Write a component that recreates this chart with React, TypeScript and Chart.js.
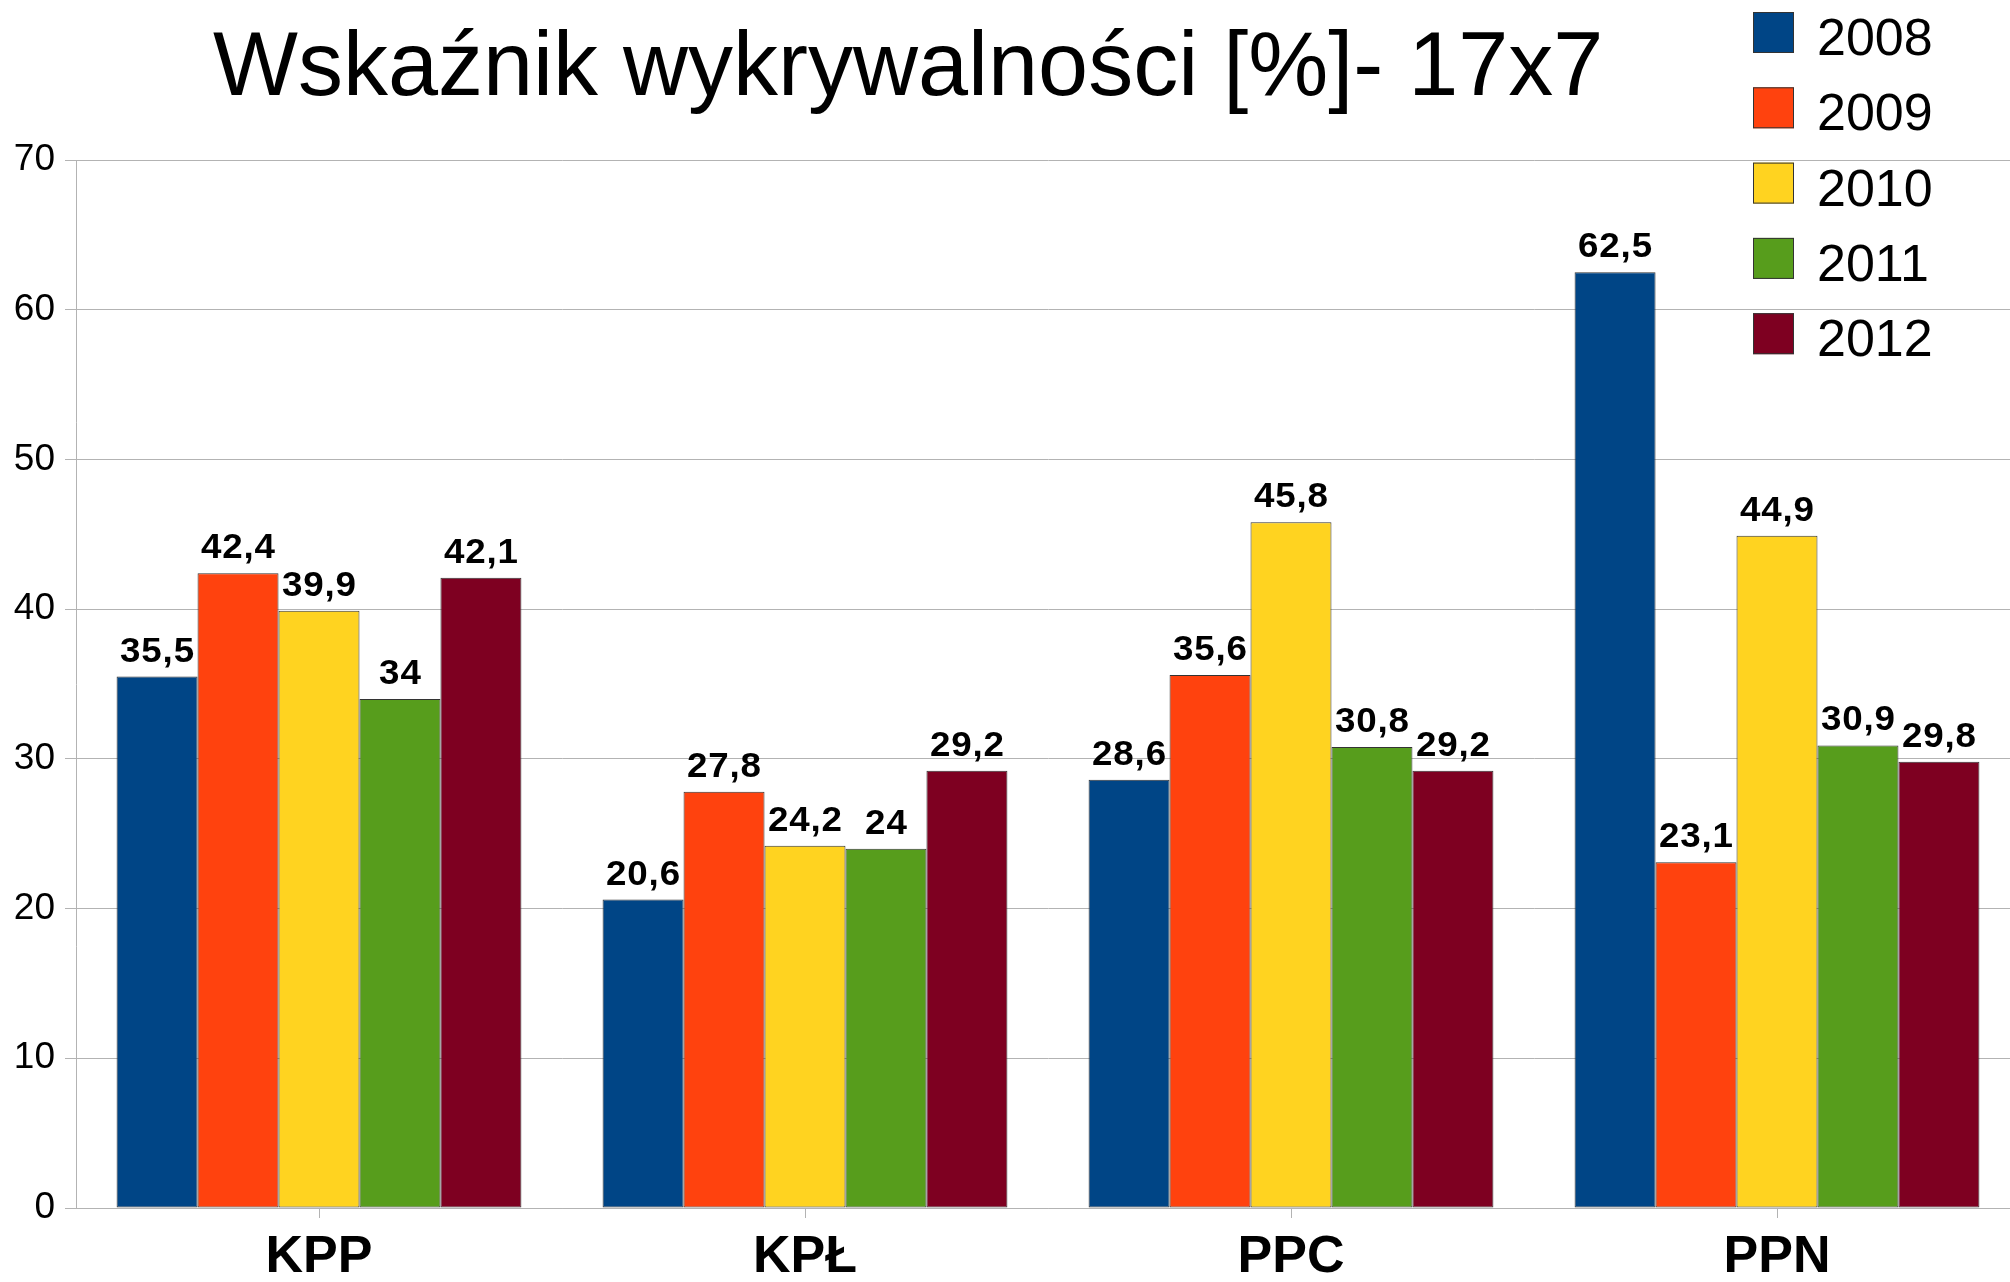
import React, { useEffect, useRef } from "react";
import { Chart, registerables } from "chart.js";

Chart.register(...registerables);

const categories = ["KPP", "KPŁ", "PPC", "PPN"];
const years = ["2008", "2009", "2010", "2011", "2012"];
const values2008 = [35.5, 20.6, 28.6, 62.5];
const values2009 = [42.4, 27.8, 35.6, 23.1];
const values2010 = [39.9, 24.2, 45.8, 44.9];
const values2011 = [34, 24, 30.8, 30.9];
const values2012 = [42.1, 29.2, 29.2, 29.8];
const seriesValues = [values2008, values2009, values2010, values2011, values2012];
const colors = ["#004586", "#ff420e", "#ffd320", "#579d1c", "#7e0021"];
const yTicks = [0, 10, 20, 30, 40, 50, 60, 70];
const titleText = "Wskaźnik wykrywalności [%]- 17x7";

const FONT = "'Liberation Sans', Arial, sans-serif";
const W = 2030;
const H = 1282;

const overlayPlugin = {
  id: "overlay",
  afterDatasetsDraw(chart: any) {
    const ctx = chart.ctx;
    ctx.save();
    ctx.fillStyle = "#000";
    ctx.font = `bold 35px ${FONT}`;
    const ls = 0.8;
    const sx = 1.05;
    try {
      (ctx as any).letterSpacing = `${ls}px`;
    } catch (e) {}
    ctx.textAlign = "center";
    ctx.textBaseline = "alphabetic";
    chart.data.datasets.forEach((ds: any, i: number) => {
      const meta = chart.getDatasetMeta(i);
      meta.data.forEach((el: any, j: number) => {
        const v = ds.data[j];
        ctx.save();
        ctx.translate(el.x, el.y - 15);
        ctx.scale(sx, 1);
        ctx.fillText(String(v).replace(".", ","), ls / 2, 0);
        ctx.restore();
      });
    });
    ctx.restore();
  },
  afterDraw(chart: any) {
    const ctx = chart.ctx;
    ctx.save();
    // title
    ctx.fillStyle = "#000";
    ctx.font = `90px ${FONT}`;
    ctx.textAlign = "left";
    ctx.textBaseline = "alphabetic";
    ctx.fillText(titleText, 213, 95);
    // legend
    ctx.font = `52px ${FONT}`;
    ctx.textBaseline = "alphabetic";
    chart.data.datasets.forEach((ds: any, i: number) => {
      const top = 12 + i * 75.3;
      ctx.fillStyle = ds.backgroundColor;
      ctx.fillRect(1753, top, 41, 41);
      ctx.strokeStyle = "#333";
      ctx.lineWidth = 1;
      ctx.strokeRect(1753.5, top + 0.5, 40, 40);
      ctx.fillStyle = "#000";
      ctx.fillText(ds.label, 1817, top + 43);
    });
    ctx.restore();
  },
};

export default function App() {
  const ref = useRef<HTMLCanvasElement>(null);
  useEffect(() => {
    if (!ref.current) return;
    const chart = new Chart(ref.current, {
      type: "bar",
      data: {
        labels: categories,
        datasets: years.map((y, i) => ({
          label: y,
          data: seriesValues[i],
          backgroundColor: colors[i],
          borderColor: "#333333",
          borderWidth: 1,
          borderSkipped: false,
          categoryPercentage: 0.833,
          barPercentage: 1,
        })),
      },
      options: {
        animation: false,
        responsive: false,
        devicePixelRatio: 1,
        layout: { padding: { top: 160, right: W - 2020, left: 0, bottom: 0 } },
        plugins: {
          legend: { display: false },
          title: { display: false },
          tooltip: { enabled: false },
        },
        scales: {
          x: {
            afterFit: (s: any) => {
              s.height = 74;
            },
            grid: {
              display: true,
              drawOnChartArea: false,
              drawTicks: true,
              tickLength: 10,
              offset: false,
              color: "#b3b3b3",
            },
            border: { display: true, color: "#b3b3b3" },
            ticks: {
              color: "#000",
              font: { family: FONT, size: 52, weight: "bold" },
              padding: 8,
            },
          },
          y: {
            min: 0,
            max: 70,
            afterFit: (s: any) => {
              s.width = 76;
            },
            afterBuildTicks: (s: any) => {
              s.ticks = yTicks.map((v) => ({ value: v }));
            },
            grid: {
              color: "#b3b3b3",
              tickLength: 11,
            },
            border: { display: true, color: "#b3b3b3" },
            ticks: {
              color: "#000",
              font: { family: FONT, size: 37 },
              padding: 10,
            },
          },
        },
      },
      plugins: [overlayPlugin],
    });
    return () => chart.destroy();
  }, []);
  return (
    <div style={{ position: "fixed", left: 0, top: 0, width: W, height: H, background: "#fff" }}>
      <canvas ref={ref} width={W} height={H} style={{ width: W, height: H, display: "block" }} />
    </div>
  );
}
